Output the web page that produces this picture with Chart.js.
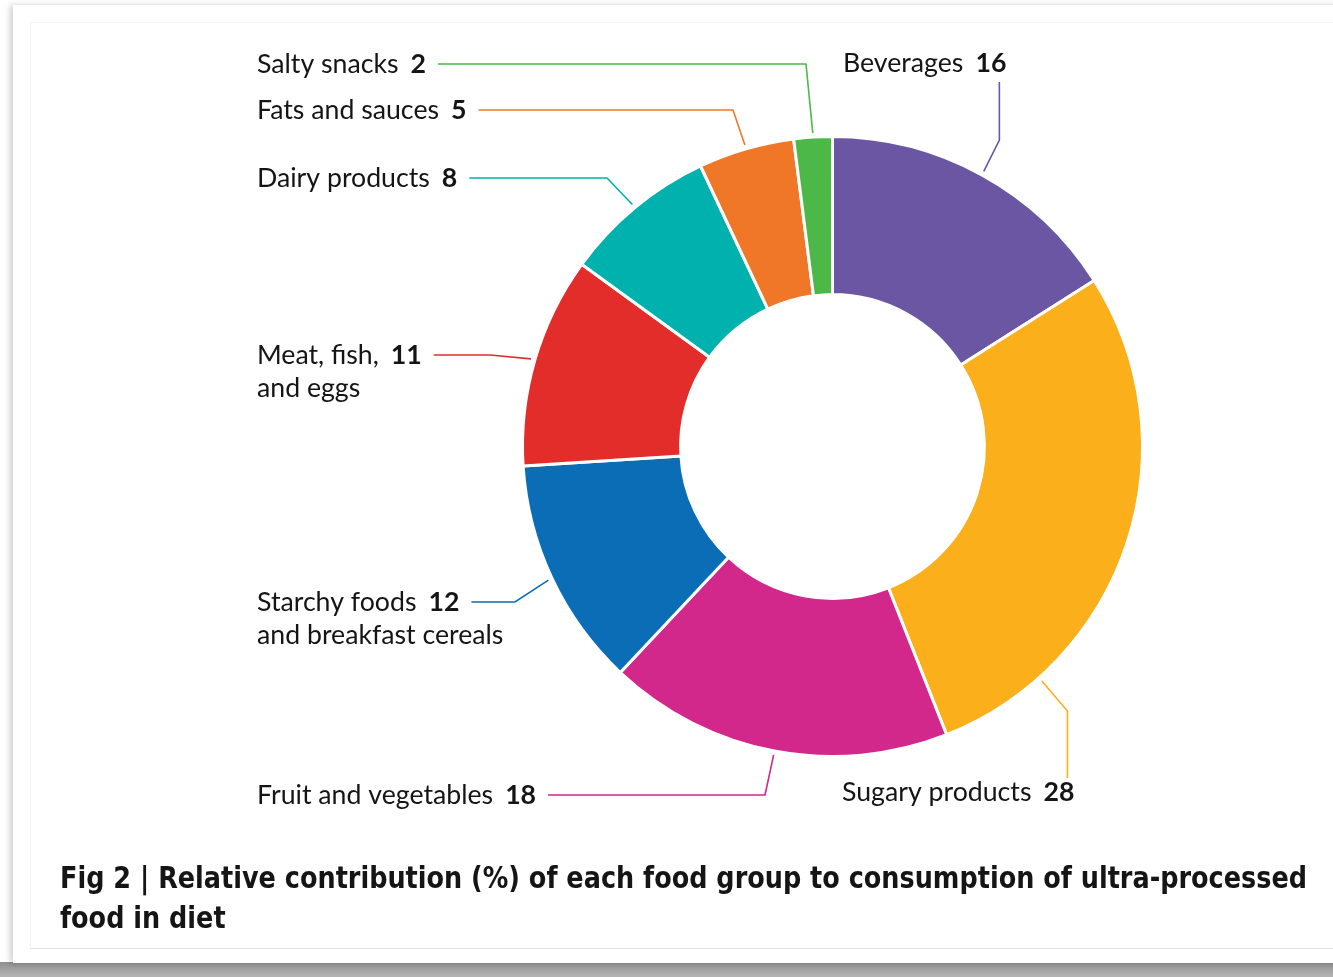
<!DOCTYPE html>
<html>
<head>
<meta charset="utf-8">
<script src="https://cdn.jsdelivr.net/npm/chart.js@4.4.0/dist/chart.umd.min.js"></script>
<style>
  html, body { margin: 0; padding: 0; background: #fff; }
  body { width: 1333px; height: 977px; position: relative; overflow: hidden; }
  #band { position: absolute; left: 0; top: 962px; width: 1333px; height: 15px;
          background: linear-gradient(to bottom, #8f8f8f, #b4b4b4); }
  #card { position: absolute; left: 13px; top: 5px; width: 1330px; height: 958px; background: #fff;
          box-shadow: -3px 0 6px rgba(0,0,0,0.18); }
  #inner { position: absolute; left: 30px; top: 22px; width: 1310px; height: 925px;
           border-top: 1px solid #f4f4f4; border-left: 1px solid #f4f4f4; border-bottom: 1px solid #e3e3e3; }
  #chart { position: absolute; left: 0; top: 0; }
  #caption { position: absolute; left: 60px; top: 858px; margin: 0; color: #151515; white-space: nowrap;
             font: bold 30px "DejaVu Sans", sans-serif; font-stretch: condensed; line-height: 40px;
             transform-origin: 0 0; }
</style>
</head>
<body>
<div id="band"></div>
<div id="card"></div>
<div id="inner"></div>
<canvas id="chart" width="1333" height="977"></canvas>
<p id="caption"><span id="cap1">Fig 2 | Relative contribution (%) of each food group to consumption of ultra-processed</span><br>food in diet</p>
<script>
// food groups, clockwise from 12 o'clock
const categories = ["Beverages", "Sugary products", "Fruit and vegetables", "Starchy foods and breakfast cereals",
  "Meat, fish, and eggs", "Dairy products", "Fats and sauces", "Salty snacks"];
const labelLines = [["Beverages"], ["Sugary products"], ["Fruit and vegetables"], ["Starchy foods", "and breakfast cereals"],
  ["Meat, fish,", "and eggs"], ["Dairy products"], ["Fats and sauces"], ["Salty snacks"]];
const shares = [16, 28, 18, 12, 11, 8, 5, 2];
const colors = ["#6a56a3", "#fbb01b", "#d2278b", "#0b6db6", "#e32d2b", "#00b1ad", "#f07727", "#4cb848"];

// where each label sits and how its leader line bends
const labelSpots = [
  { x: 843, y: 72, kind: "v", fromY: 82, elbow: 140, along: 0.5 },
  { x: 842, y: 801, kind: "v", fromY: 778, elbow: 711, along: 0.8 },
  { x: 257, y: 804, kind: "h", elbow: 765, along: 0.5 },
  { x: 257, y: 611, kind: "h", elbow: 515, along: 0.5 },
  { x: 257, y: 364, kind: "h", elbow: 490, along: 0.5 },
  { x: 257, y: 187, kind: "h", elbow: 607, along: 0.5 },
  { x: 257, y: 119, kind: "h", elbow: 733, along: 0.5 },
  { x: 257, y: 73, kind: "h", elbow: 806, along: 0.5 },
];

const labelFont = '26.7px Lato';
const numberFont = 'bold 26.7px Lato';

const leaderLabels = {
  id: "leaderLabels",
  afterDatasetsDraw(chart) {
    const ctx = chart.ctx;
    const arcs = chart.getDatasetMeta(0).data;
    labelSpots.forEach((spot, i) => {
      const p = arcs[i].getProps(["x", "y", "startAngle", "endAngle", "outerRadius"], true);
      const a = p.startAngle + spot.along * (p.endAngle - p.startAngle);
      const r = p.outerRadius + 4;
      const ax = p.x + Math.cos(a) * r;
      const ay = p.y + Math.sin(a) * r;

      ctx.save();
      ctx.fillStyle = "#151515";
      ctx.textBaseline = "alphabetic";
      ctx.font = labelFont;
      const lines = labelLines[i];
      ctx.fillText(lines[0], spot.x, spot.y);
      const nameW = ctx.measureText(lines[0]).width;
      for (let k = 1; k < lines.length; k++) {
        ctx.fillText(lines[k], spot.x, spot.y + 33 * k);
      }
      ctx.font = numberFont;
      const numX = spot.x + nameW + 12;
      const num = String(shares[i]);
      ctx.fillText(num, numX, spot.y);
      const numEnd = numX + ctx.measureText(num).width;

      ctx.strokeStyle = colors[i];
      ctx.lineWidth = 1.6;
      ctx.beginPath();
      if (spot.kind === "h") {
        const ly = spot.y - 9;
        ctx.moveTo(numEnd + 12, ly);
        ctx.lineTo(spot.elbow, ly);
      } else {
        const lx = numEnd - 7;
        ctx.moveTo(lx, spot.fromY);
        ctx.lineTo(lx, spot.elbow);
      }
      ctx.lineTo(ax, ay);
      ctx.stroke();
      ctx.restore();
    });
  },
};

new Chart(document.getElementById("chart"), {
  type: "doughnut",
  data: {
    labels: categories,
    datasets: [{
      data: shares,
      backgroundColor: colors,
      borderColor: "#ffffff",
      borderWidth: 3,
    }],
  },
  options: {
    responsive: false,
    animation: false,
    cutout: "49%",
    layout: { padding: { left: 521, top: 135, right: 189, bottom: 219 } },
    plugins: {
      legend: { display: false },
      tooltip: { enabled: false },
    },
  },
  plugins: [leaderLabels],
});

// squeeze the caption so its first line spans the same width as in the figure
const cap = document.getElementById("caption");
const w = document.getElementById("cap1").getBoundingClientRect().width;
cap.style.transform = "scaleX(" + (1247 / w) + ")";
</script>
</body>
</html>
